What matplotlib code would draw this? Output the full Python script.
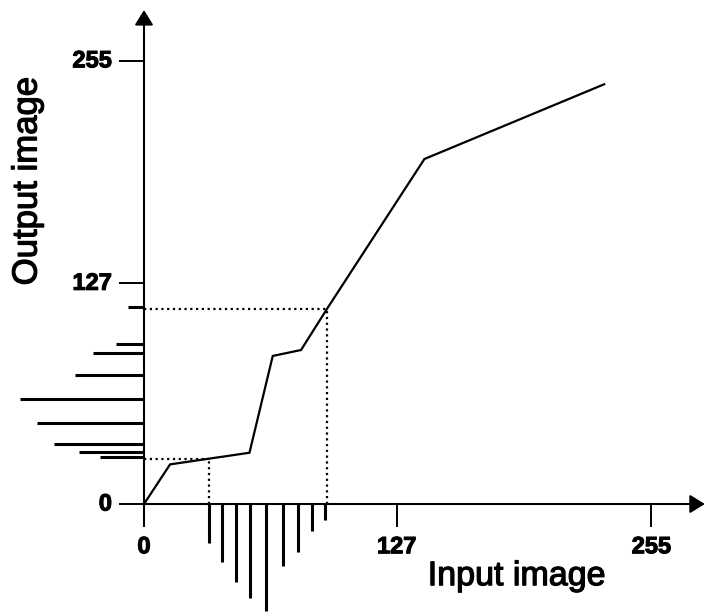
import numpy as np
import matplotlib
matplotlib.use("Agg")
import matplotlib.pyplot as plt
import matplotlib.patheffects as pe

# ---- data ----
curve_in = [0, 13.1, 53.0, 64.7, 78.9, 92.3, 140.9, 231.2]
curve_out = [0, 22.8, 29.5, 85.2, 88.6, 112.9, 198.5, 241.5]

input_levels = [32.8, 39.3, 46.2, 53.4, 61.5, 69.8, 77.2, 84.3, 90.8]
input_counts = [22.4, 33.4, 44.9, 54.1, 61.6, 35.5, 27.4, 15.5, 9.2]

output_levels = [113.3, 91.9, 86.9, 74.1, 60.4, 46.6, 34.3, 30.1, 27.0]
output_counts = [7.9, 14.2, 25.8, 34.8, 62.3, 53.9, 45.1, 32.7, 22.1]

highlight_in = [32.8, 91.8]

tick_values = [0, 127, 255]
tick_labels = ["0", "127", "255"]

x_label = "Input image"
y_label = "Output image"

# ---- figure ----
FONT = "Liberation Sans"
fig = plt.figure(figsize=(7.06, 6.12), dpi=100)
ax = fig.add_axes([0, 0, 1, 1])
ax.set_xlim(-72.36, 282.4)
ax.set_ylim(-62.14, 290.0)
ax.axis("off")

heavy_title = [pe.withStroke(linewidth=0.9, foreground="black")]
heavy_tick = [pe.withStroke(linewidth=0.8, foreground="black")]

# axes with arrows
arrow_kw = dict(arrowstyle="-|>,head_length=0.45,head_width=0.28",
                lw=1.5, color="black", mutation_scale=20,
                shrinkA=0, shrinkB=0)
ax.annotate("", xy=(0, 284.2), xytext=(0, -12.6), arrowprops=arrow_kw)
ax.annotate("", xy=(281.8, 0), xytext=(-0.5, 0), arrowprops=arrow_kw)

# ticks
for v in tick_values:
    ax.plot([-12.8, 0], [v, v], color="black", lw=1.4, solid_capstyle="butt")
    ax.plot([v, v], [0, -13.0], color="black", lw=1.4, solid_capstyle="butt")

for v, lab in zip(tick_values, tick_labels):
    ax.text(-16.1, v, lab, ha="right", va="center", fontsize=17,
            fontweight="bold", family=FONT, path_effects=heavy_tick)
    ax.text(v, -24.6, lab, ha="center", va="center", fontsize=17,
            fontweight="bold", family=FONT, path_effects=heavy_tick)

# transfer curve
ax.plot(curve_in, curve_out, color="black", lw=1.6, solid_joinstyle="miter")

# dotted guide lines
dot_style = (0, (1.0, 1.6))
for xi in highlight_in:
    yo = float(np.interp(xi, curve_in, curve_out))
    ax.plot([0, xi], [yo, yo], color="black", lw=1.6, linestyle=dot_style)
    ax.plot([xi, xi], [0, yo], color="black", lw=1.6, linestyle=dot_style)

# input histogram (below x axis)
for xi, c in zip(input_levels, input_counts):
    ax.plot([xi, xi], [0, -c], color="black", lw=2.2, solid_capstyle="butt")

# output histogram (left of y axis)
for yo, c in zip(output_levels, output_counts):
    ax.plot([0, -c], [yo, yo], color="black", lw=2.2, solid_capstyle="butt")

# axis titles
ax.text(187.3, -41.8, x_label, ha="center", va="center", fontsize=24.5,
        family=FONT, path_effects=heavy_title)
ax.text(-58.8, 185.8, y_label, ha="center", va="center", fontsize=25,
        rotation=90, family=FONT, path_effects=heavy_title)

fig.savefig("out.png", dpi=100)
